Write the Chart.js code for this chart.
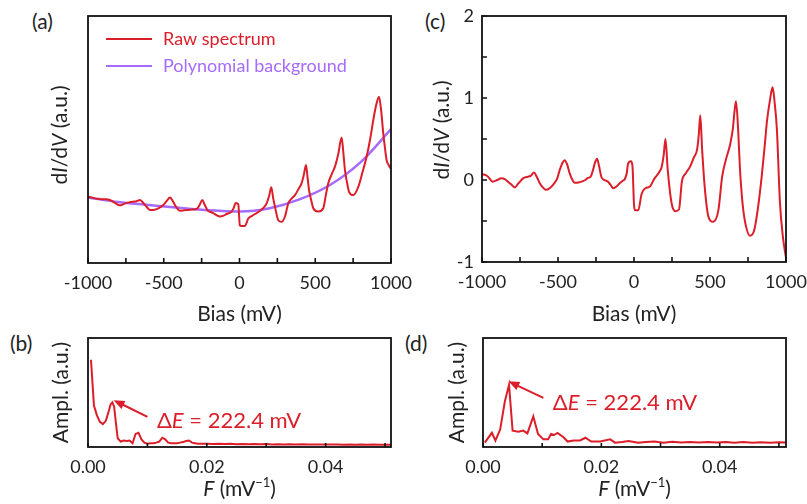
<!DOCTYPE html>
<html>
<head>
<meta charset="utf-8">
<script src="https://cdn.jsdelivr.net/npm/chart.js@4.4.1/dist/chart.umd.min.js"></script>
<style>
  body { margin: 0; background: #fff; width: 807px; height: 504px; position: relative; overflow: hidden; font-family: Lato, sans-serif; }
  canvas { position: absolute; }
  .tag { position: absolute; font-size: 21px; line-height: 24px; color: #222; }
</style>
</head>
<body>
<div class="tag" style="left:32px; top:9px">(a)</div>
<div class="tag" style="left:10px; top:331px">(b)</div>
<div class="tag" style="left:425px; top:9px">(c)</div>
<div class="tag" style="left:405px; top:331px">(d)</div>
<canvas id="chartA" width="420" height="332" style="left:0; top:0"></canvas>
<canvas id="chartC" width="407" height="332" style="left:400px; top:0"></canvas>
<canvas id="chartB" width="420" height="172" style="left:0; top:332px"></canvas>
<canvas id="chartD" width="407" height="172" style="left:400px; top:332px"></canvas>
<script>
// (a) raw spectrum
const biasA = [-1000, -975, -954, -930, -910, -880, -855, -822, -789, -765, -745, -720, -701, -680, -657, -640, -624, -605, -591, -570,
  -547, -525, -503, -480, -459, -443, -426, -410, -393, -365, -338, -310, -283, -265, -246, -230, -210, -190, -173, -150,
  -129, -105, -85, -65, -52, -38, -25, -8, 2, 12, 36, 58, 80, 102, 125, 146, 165, 179, 195, 210,
  222, 234, 256, 278, 300, 322, 345, 366, 390, 410, 425, 439, 450, 459, 475, 487, 520, 553, 570, 586,
  608, 630, 652, 674, 685, 696, 710, 723, 751, 784, 810, 839, 862, 883, 903, 921, 935, 949, 960, 971, 985, 1000];
const rawA = [1.61, 1.59, 1.57, 1.56, 1.55, 1.55, 1.53, 1.46, 1.40, 1.43, 1.46, 1.48, 1.49, 1.50, 1.53, 1.48, 1.41, 1.33, 1.29, 1.29,
  1.31, 1.35, 1.41, 1.51, 1.59, 1.52, 1.41, 1.32, 1.27, 1.28, 1.29, 1.30, 1.31, 1.40, 1.53, 1.42, 1.27, 1.24, 1.21, 1.16,
  1.13, 1.15, 1.19, 1.22, 1.25, 1.34, 1.46, 1.43, 0.92, 0.90, 0.90, 1.08, 1.14, 1.19, 1.24, 1.30, 1.37, 1.45, 1.62, 1.84,
  1.58, 1.37, 1.04, 1.00, 1.13, 1.45, 1.57, 1.65, 1.80, 1.94, 2.15, 2.38, 2.05, 1.77, 1.50, 1.33, 1.25, 1.33, 1.65, 1.94,
  2.15, 2.34, 2.65, 3.05, 2.70, 2.26, 1.95, 1.73, 1.65, 1.85, 2.18, 2.58, 3.00, 3.47, 3.85, 4.04, 3.70, 3.15, 2.80, 2.50, 2.38, 2.28];

// (a) polynomial background
const biasBg = [-1000, -800, -600, -400, -200, 0, 200, 400, 600, 800, 1000];
const bgA = [1.59, 1.48, 1.41, 1.34, 1.28, 1.25, 1.33, 1.55, 1.90, 2.45, 3.25];

// (c) background-subtracted spectrum
const biasC = [-1000, -975, -960, -930, -900, -875, -850, -830, -810, -785, -760, -730, -700, -680, -658, -640, -620, -600, -580, -555,
  -525, -505, -489, -470, -456, -440, -423, -405, -390, -365, -345, -320, -303, -285, -270, -255, -243, -230, -215, -195,
  -171, -150, -138, -115, -94, -75, -61, -48, -39, -20, -10, 0, 8, 28, 50, 75, 105, 135, 160, 182,
  195, 207, 222, 248, 272, 296, 315, 340, 368, 395, 415, 426, 436, 448, 465, 490, 520, 555, 580, 605,
  632, 650, 662, 671, 685, 697, 715, 735, 763, 790, 815, 840, 860, 875, 895, 912, 925, 940, 960, 980, 1000];
const dIdVc = [0.07, 0.06, 0.04, -0.02, 0.00, 0.02, 0.01, -0.02, -0.05, -0.09, -0.04, 0.02, 0.04, 0.05, 0.09, 0.04, -0.04, -0.09, -0.12, -0.10,
  -0.04, 0.02, 0.12, 0.21, 0.24, 0.19, 0.08, 0.00, -0.035, -0.03, -0.02, 0.00, 0.025, 0.04, 0.12, 0.22, 0.26, 0.17, 0.04, 0.00,
  -0.02, -0.07, -0.10, -0.08, -0.04, -0.01, 0.01, 0.08, 0.20, 0.23, 0.17, -0.30, -0.37, -0.37, -0.17, -0.10, -0.08, 0.02, 0.08, 0.16,
  0.30, 0.50, 0.12, -0.29, -0.38, -0.36, -0.02, 0.08, 0.16, 0.28, 0.37, 0.55, 0.79, 0.38, -0.08, -0.45, -0.51, -0.37, 0.04, 0.25,
  0.43, 0.62, 0.85, 0.96, 0.62, 0.14, -0.30, -0.55, -0.68, -0.62, -0.35, 0.04, 0.42, 0.72, 0.98, 1.13, 0.95, 0.62, -0.27, -0.70, -0.95];

// (b) FFT of raw spectrum
const freqB = [0.0005, 0.001, 0.0015, 0.002, 0.0025, 0.003, 0.0035, 0.0038, 0.0041, 0.0044, 0.0047, 0.005, 0.0055, 0.006, 0.0065, 0.007, 0.0075, 0.008, 0.0085, 0.009, 0.0095, 0.010,
  0.0105, 0.011, 0.0115, 0.012, 0.0125, 0.013, 0.0135, 0.014, 0.0145, 0.015, 0.0155, 0.016, 0.0165, 0.017, 0.0175, 0.018, 0.0185, 0.019, 0.0195, 0.020,
  0.021, 0.022, 0.023, 0.024, 0.025, 0.026, 0.027, 0.028, 0.029, 0.030, 0.031, 0.032, 0.033, 0.034, 0.035, 0.036, 0.037, 0.038, 0.039, 0.040,
  0.041, 0.042, 0.043, 0.044, 0.045, 0.046, 0.047, 0.048, 0.049, 0.050, 0.051];
const amplB = [0.80, 0.38, 0.29, 0.23, 0.21, 0.24, 0.33, 0.39, 0.41, 0.37, 0.22, 0.08, 0.05, 0.06, 0.055, 0.06, 0.035, 0.12, 0.13, 0.07, 0.04, 0.03,
  0.035, 0.035, 0.04, 0.05, 0.085, 0.07, 0.04, 0.035, 0.035, 0.035, 0.04, 0.045, 0.055, 0.06, 0.04, 0.035, 0.03, 0.03, 0.03, 0.03,
  0.028, 0.03, 0.027, 0.029, 0.026, 0.028, 0.025, 0.027, 0.025, 0.027, 0.024, 0.026, 0.024, 0.025, 0.023, 0.025, 0.023, 0.024, 0.022, 0.024,
  0.022, 0.023, 0.021, 0.023, 0.021, 0.022, 0.021, 0.022, 0.020, 0.021, 0.020];

// (d) FFT of background-subtracted spectrum
const freqD = [0.0003, 0.0015, 0.0021, 0.0029, 0.0037, 0.0044, 0.0050, 0.0060, 0.0068, 0.0075, 0.0085, 0.0093, 0.0102, 0.0110, 0.0115, 0.0120, 0.0126, 0.0136, 0.0143, 0.0153,
  0.0164, 0.0173, 0.0183, 0.0198, 0.0215, 0.0223, 0.0235, 0.0246, 0.0262, 0.0275, 0.029, 0.0305, 0.032, 0.0335, 0.035, 0.0365, 0.038, 0.0395, 0.041, 0.0425,
  0.044, 0.0455, 0.047, 0.0485, 0.050, 0.0512];
const amplD = [0.04, 0.13, 0.06, 0.16, 0.42, 0.57, 0.15, 0.14, 0.15, 0.125, 0.28, 0.12, 0.07, 0.07, 0.12, 0.11, 0.13, 0.09, 0.05, 0.06,
  0.06, 0.085, 0.05, 0.05, 0.07, 0.04, 0.045, 0.055, 0.04, 0.045, 0.05, 0.04, 0.048, 0.042, 0.047, 0.042, 0.046, 0.041, 0.045, 0.04,
  0.045, 0.04, 0.044, 0.04, 0.044, 0.042];

// ticks
const biasTicks = [-1000, -750, -500, -250, 0, 250, 500, 750, 1000];
const biasLabels = [-1000, -500, 0, 500, 1000];
const yTicksC = [-1, -0.5, 0, 0.5, 1, 1.5, 2];
const yLabelsC = [-1, 0, 1, 2];
const freqTicks = [0, 0.01, 0.02, 0.03, 0.04, 0.05];
const freqLabels = [0, 0.02, 0.04];

// annotations: arrow [fromX, fromY, toX, toY], label anchor [x, y]
const arrowB = [0.0100, 0.277, 0.0043, 0.43];
const noteB = [0.0116, 0.242];
const arrowD = [0.0102, 0.45, 0.0043, 0.603];
const noteD = [0.0118, 0.40];

const RED = '#DC1E2A';
const PURPLE = '#A66BFF';
const INK = '#222';

Chart.defaults.font.family = 'Lato, sans-serif';
Chart.defaults.color = INK;

function drawRich(ctx, parts, x, y, size, rot, align) {
  ctx.save();
  ctx.translate(x, y);
  ctx.rotate(rot || 0);
  ctx.textBaseline = 'middle';
  ctx.textAlign = 'left';
  const fontOf = p => (p.i ? 'italic ' : '') + (p.s ? Math.round(size * 0.62) : size) + 'px Lato, sans-serif';
  let w = 0;
  parts.forEach(p => { ctx.font = fontOf(p); w += ctx.measureText(p.t).width; });
  let cx = align === 'left' ? 0 : -w / 2;
  parts.forEach(p => {
    ctx.font = fontOf(p);
    ctx.fillText(p.t, cx, p.s ? -size * 0.3 : 0);
    cx += ctx.measureText(p.t).width;
  });
  ctx.restore();
}

const frame = {
  id: 'frame',
  afterDraw(chart, args, o) {
    const { ctx, chartArea: a, scales: { x, y } } = chart;
    ctx.save();
    ctx.strokeStyle = '#111';
    ctx.lineWidth = 1.6;
    ctx.beginPath();
    x.ticks.forEach(t => {
      const px = x.getPixelForValue(t.value);
      ctx.moveTo(px, a.bottom);
      ctx.lineTo(px, a.bottom - o.xTick);
    });
    if (o.yTick) {
      y.ticks.forEach(t => {
        const py = y.getPixelForValue(t.value);
        ctx.moveTo(a.left, py);
        ctx.lineTo(a.left + o.yTick, py);
      });
    }
    ctx.stroke();
    ctx.lineWidth = 1.8;
    ctx.strokeRect(a.left, a.top, a.right - a.left, a.bottom - a.top);

    ctx.fillStyle = INK;
    if (o.yTitle) drawRich(ctx, o.yTitle, o.yTitleX, o.yTitleY, 21, -Math.PI / 2);
    if (o.xTitle) drawRich(ctx, o.xTitle, (a.left + a.right) / 2, o.xTitleY, 21, 0);

    if (o.legend) {
      chart.data.datasets.forEach((ds, i) => {
        const ly = a.top + 23 + i * 27;
        ctx.strokeStyle = ds.borderColor;
        ctx.lineWidth = 2;
        ctx.beginPath();
        ctx.moveTo(a.left + 18, ly);
        ctx.lineTo(a.left + 64, ly);
        ctx.stroke();
        ctx.fillStyle = ds.borderColor;
        drawRich(ctx, [{ t: ds.label }], a.left + 75, ly, 18, 0, 'left');
      });
    }

    if (o.arrow) {
      const [x0, y0, x1, y1] = o.arrow;
      const ax = x.getPixelForValue(x0), ay = y.getPixelForValue(y0);
      const bx = x.getPixelForValue(x1), by = y.getPixelForValue(y1);
      const ang = Math.atan2(by - ay, bx - ax);
      const head = 11;
      ctx.strokeStyle = RED;
      ctx.fillStyle = RED;
      ctx.lineWidth = 2;
      ctx.beginPath();
      ctx.moveTo(ax, ay);
      ctx.lineTo(bx - head * 0.8 * Math.cos(ang), by - head * 0.8 * Math.sin(ang));
      ctx.stroke();
      ctx.beginPath();
      ctx.moveTo(bx, by);
      ctx.lineTo(bx - head * Math.cos(ang) + 4.5 * Math.sin(ang), by - head * Math.sin(ang) - 4.5 * Math.cos(ang));
      ctx.lineTo(bx - head * Math.cos(ang) - 4.5 * Math.sin(ang), by - head * Math.sin(ang) + 4.5 * Math.cos(ang));
      ctx.closePath();
      ctx.fill();
      const [nx, ny] = o.note;
      drawRich(ctx, [{ t: '\u0394' }, { t: 'E', i: true }, { t: ' = 222.4 mV' }],
        x.getPixelForValue(nx), y.getPixelForValue(ny), 22, 0, 'left');
    }
    ctx.restore();
  }
};
Chart.register(frame);

function pick(list, v, fmt) {
  const hit = list.find(l => Math.abs(l - v) < 1e-9);
  return hit === undefined ? '' : fmt(hit);
}

function xScale(opts) {
  return {
    type: 'linear',
    min: opts.min,
    max: opts.max,
    afterBuildTicks: s => { s.ticks = opts.ticks.map(v => ({ value: v })); },
    afterFit: s => { s.height = opts.height; s.paddingLeft = 0; s.paddingRight = 0; },
    grid: { display: false, drawTicks: false },
    border: { display: false },
    ticks: {
      autoSkip: false, maxRotation: 0, padding: 9, color: INK, font: { size: 18 },
      callback: v => pick(opts.labels, v, opts.fmt)
    },
    title: opts.title ? { display: true, text: opts.title, color: INK, font: { size: 21 }, padding: { top: 0, bottom: 5 } } : { display: false }
  };
}

function plainY(min, max, width, title, titlePad) {
  return {
    type: 'linear',
    min: min,
    max: max,
    afterFit: s => { s.width = width; s.paddingTop = 0; s.paddingBottom = 0; },
    grid: { display: false, drawTicks: false },
    border: { display: false },
    ticks: { display: false },
    title: title ? { display: true, text: title, color: INK, font: { size: 21 }, padding: { top: titlePad, bottom: 0 } } : { display: false }
  };
}

const dIdVTitle = [{ t: 'd' }, { t: 'I', i: true }, { t: '/d' }, { t: 'V', i: true }, { t: ' (a.u.)' }];
const fTitle = [{ t: 'F', i: true }, { t: ' (mV' }, { t: '\u22121', s: true }, { t: ')' }];

const common = {
  responsive: false,
  animation: false,
  events: [],
  plugins: { legend: { display: false }, tooltip: { enabled: false } }
};

// (a)
new Chart(document.getElementById('chartA'), {
  type: 'line',
  data: {
    datasets: [
      {
        label: 'Raw spectrum',
        data: biasA.map((b, i) => ({ x: b, y: rawA[i] })),
        borderColor: RED, borderWidth: 2, pointRadius: 0, cubicInterpolationMode: 'monotone'
      },
      {
        label: 'Polynomial background',
        data: biasBg.map((b, i) => ({ x: b, y: bgA[i] })),
        borderColor: PURPLE, borderWidth: 2.5, pointRadius: 0, cubicInterpolationMode: 'monotone'
      }
    ]
  },
  options: {
    ...common,
    layout: { padding: { top: 16, right: 29, left: 0, bottom: 0 } },
    scales: {
      x: xScale({ min: -1000, max: 1000, ticks: biasTicks, labels: biasLabels, fmt: v => String(v), height: 69, title: 'Bias (mV)' }),
      y: plainY(0, 6, 88)
    },
    plugins: {
      ...common.plugins,
      frame: { xTick: 5, yTitle: dIdVTitle, yTitleX: 60, yTitleY: 135, legend: true }
    }
  }
});

// (c)
new Chart(document.getElementById('chartC'), {
  type: 'line',
  data: {
    datasets: [{
      label: 'Subtracted',
      data: biasC.map((b, i) => ({ x: b, y: dIdVc[i] })),
      borderColor: RED, borderWidth: 2, pointRadius: 0, cubicInterpolationMode: 'monotone'
    }]
  },
  options: {
    ...common,
    layout: { padding: { top: 16, right: 21, left: 0, bottom: 0 } },
    scales: {
      x: xScale({ min: -1000, max: 1000, ticks: biasTicks, labels: biasLabels, fmt: v => String(v), height: 70, title: 'Bias (mV)' }),
      y: {
        type: 'linear', min: -1, max: 2,
        afterBuildTicks: s => { s.ticks = yTicksC.map(v => ({ value: v })); },
        afterFit: s => { s.width = 82; s.paddingTop = 0; s.paddingBottom = 0; },
        grid: { display: false, drawTicks: false },
        border: { display: false },
        ticks: { autoSkip: false, padding: 8, color: INK, font: { size: 18 }, callback: v => pick(yLabelsC, v, l => String(l)) }
      }
    },
    plugins: {
      ...common.plugins,
      frame: { xTick: 5, yTick: 5, yTitle: dIdVTitle, yTitleX: 42, yTitleY: 130 }
    }
  }
});

// (b)
new Chart(document.getElementById('chartB'), {
  type: 'line',
  data: {
    datasets: [{
      label: 'FFT raw',
      data: freqB.map((f, i) => ({ x: f, y: amplB[i] })),
      borderColor: RED, borderWidth: 2, pointRadius: 0, tension: 0
    }]
  },
  options: {
    ...common,
    layout: { padding: { top: 6, right: 29, left: 0, bottom: 0 } },
    scales: {
      x: xScale({ min: 0, max: 0.051, ticks: freqTicks, labels: freqLabels, fmt: v => v.toFixed(2), height: 57 }),
      y: plainY(0, 1, 88, 'Ampl. (a.u.)', 49)
    },
    plugins: {
      ...common.plugins,
      frame: { xTick: 4, xTitle: fTitle, xTitleY: 157, arrow: arrowB, note: noteB }
    }
  }
});

// (d)
new Chart(document.getElementById('chartD'), {
  type: 'line',
  data: {
    datasets: [{
      label: 'FFT subtracted',
      data: freqD.map((f, i) => ({ x: f, y: amplD[i] })),
      borderColor: RED, borderWidth: 2, pointRadius: 0, tension: 0
    }]
  },
  options: {
    ...common,
    layout: { padding: { top: 6, right: 21, left: 0, bottom: 0 } },
    scales: {
      x: xScale({ min: 0, max: 0.0512, ticks: freqTicks, labels: freqLabels, fmt: v => v.toFixed(2), height: 57 }),
      y: plainY(0, 1, 83, 'Ampl. (a.u.)', 45)
    },
    plugins: {
      ...common.plugins,
      frame: { xTick: 4, xTitle: fTitle, xTitleY: 157, arrow: arrowD, note: noteD }
    }
  }
});
</script>
</body>
</html>
